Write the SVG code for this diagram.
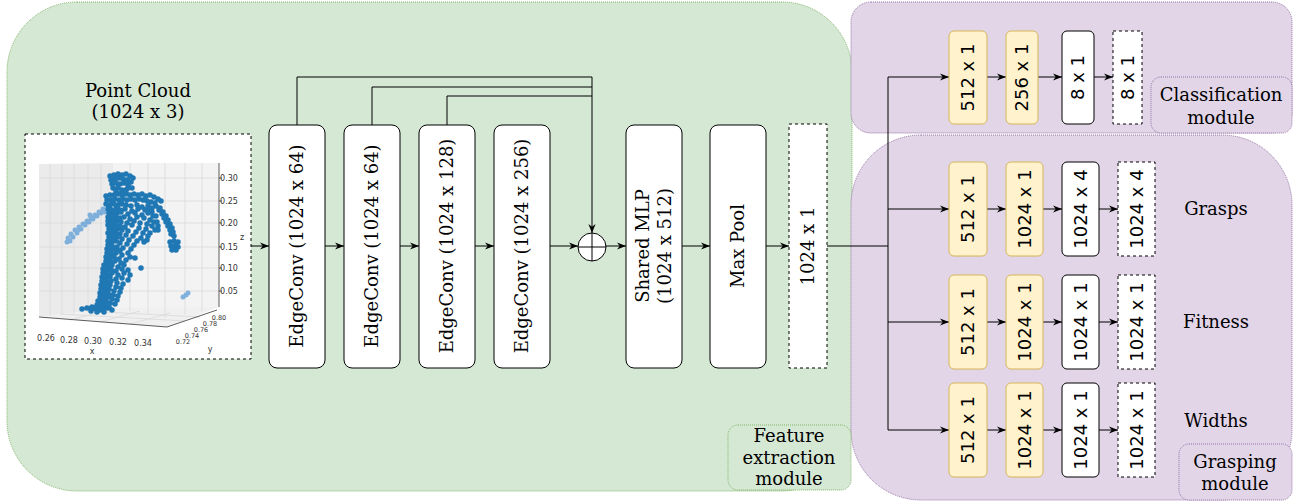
<svg xmlns="http://www.w3.org/2000/svg" width="1303" height="502" viewBox="0 0 1303 502">
<defs>
<style>
.g{fill:#d5e8d4;stroke:#82b366;stroke-dasharray:1 1}
.p{fill:#e1d5e7;stroke:#9673a6;stroke-dasharray:1 1}
.w{fill:#fff;stroke:#000;stroke-width:1}
.y{fill:#fff2cc;stroke:#d6b656;stroke-width:1}
.d{fill:#fff;stroke:#000;stroke-width:1;stroke-dasharray:3 3}
.sf{font-family:"DejaVu Serif","Liberation Serif",serif;font-size:18px;fill:#000;text-anchor:middle}
.ss{font-family:"DejaVu Sans","Liberation Sans",sans-serif;font-size:18px;fill:#000;text-anchor:middle}
.tk{font-family:"DejaVu Sans","Liberation Sans",sans-serif;font-size:8px;fill:#333;text-anchor:middle}
.tky{font-family:"DejaVu Sans","Liberation Sans",sans-serif;font-size:6.5px;fill:#333;text-anchor:middle}
.c{fill:none;stroke:#000;stroke-width:1}
.ca{fill:none;stroke:#000;stroke-width:1;marker-end:url(#ah)}
.gr{stroke:#d9d9d9;stroke-width:0.8;fill:none}
</style>
<marker id="ah" viewBox="0 0 10 10" refX="10" refY="5" markerWidth="9" markerHeight="9" markerUnits="userSpaceOnUse" orient="auto">
<path d="M0,1 L10,5 L0,9 L3,5 Z" fill="#000"/>
</marker>
</defs>

<g id="feature-module">
<rect class="g" x="7" y="2" width="845" height="489" rx="70"/>
</g>
<g id="classification-module">
<rect class="p" x="851" y="2" width="441" height="131" rx="20"/>
</g>
<g id="grasping-module">
<rect class="p" x="851" y="135" width="441" height="365" rx="70"/>
</g>

<g id="point-cloud">
<text class="sf" x="138" y="97">Point Cloud</text>
<text class="sf" x="138" y="118">(1024 x 3)</text>
<rect class="d" x="25" y="134" width="226" height="225"/>
<polygon points="39,164 113,163 113,308 39,317" fill="#ebebeb"/>
<polygon points="113,163 219,163 219,307 167,320 113,308" fill="#f3f3f3"/>
<polygon points="39,317 113,308 219,307 167,327" fill="#f0f0f0"/>
<path class="gr" d="M50,164V316 M62,164V315 M74,164V314 M88,164V312 M101,164V310 M130,163V311 M148,163V314 M165,163V318 M185,163V315 M202,163V311 M39,178H219 M39,201H219 M39,223H219 M39,247H219 M39,268H219 M39,291H219 M60,314L185,321 M85,311L200,317 M70,320L112,309 M100,322L140,311 M130,324L170,313"/>
<path d="M39,317L167,327L217,310 M219,163V307" stroke="#333" stroke-width="0.8" fill="none"/>
<path d="M219,178h3 M219,201h3 M219,223h3 M219,247h3 M219,268h3 M219,291h3" stroke="#333" stroke-width="0.8"/>
<path fill="none" stroke="#5b9bd5" stroke-width="5" stroke-linecap="round" opacity="0.75" d="M103 209h0 M99 212h0 M95 215h0 M91 218h0 M87 221h0 M83 224h0 M79 227h0 M75 230h0 M71 234h0 M68 238h0 M67 242h0 M101 213h0 M97 216h0 M93 219h0 M89 222h0 M85 225h0 M81 229h0 M77 233h0 M73 237h0 M70 241h0 M105 212h0 M90 215h0 M78 230h0 M183 297h0 M186 295h0 M188 293h0"/>
<path fill="none" stroke="#1f77b4" stroke-width="5.5" stroke-linecap="round" d="M110 176h0 M114 175h0 M118 174h0 M122 175h0 M126 174h0 M130 176h0 M133 178h0 M111 180h0 M115 179h0 M119 178h0 M123 179h0 M127 180h0 M131 182h0 M112 184h0 M116 183h0 M120 184h0 M124 183h0 M128 185h0 M113 188h0 M118 188h0 M122 190h0 M127 189h0 M132 188h0 M116 192h0 M121 193h0 M126 193h0
M106 196h0 M110 195h0 M114 195h0 M118 194h0 M122 195h0 M126 194h0 M130 195h0 M134 194h0 M138 195h0 M142 194h0 M146 196h0 M150 195h0 M154 197h0 M158 199h0 M161 201h0 M107 200h0 M111 200h0 M115 199h0 M119 200h0 M123 199h0 M127 200h0 M131 199h0 M135 200h0 M139 199h0 M143 200h0 M147 201h0 M151 202h0 M155 203h0 M106 204h0 M110 205h0 M114 204h0 M118 205h0 M122 204h0 M126 205h0 M131 206h0 M137 205h0 M142 207h0 M148 206h0 M152 208h0
M108 209h0 M112 210h0 M116 209h0 M120 210h0 M125 209h0 M132 211h0 M138 209h0 M145 210h0 M150 209h0
M109 213h0 M113 214h0 M117 213h0 M121 212h0 M128 214h0 M135 213h0 M142 215h0 M148 213h0 M153 216h0
M108 217h0 M112 218h0 M116 217h0 M120 218h0 M124 217h0 M130 219h0 M137 217h0 M144 218h0 M150 220h0
M108 221h0 M112 222h0 M116 221h0 M121 222h0 M127 223h0 M134 221h0 M140 223h0 M147 224h0 M157 222h0
M108 225h0 M112 226h0 M116 225h0 M120 226h0 M125 227h0 M132 225h0 M139 228h0 M146 229h0 M152 226h0
M109 229h0 M113 230h0 M117 229h0 M122 230h0 M128 231h0 M136 232h0 M143 233h0 M158 230h0
M108 233h0 M112 234h0 M116 233h0 M120 234h0 M126 235h0 M133 236h0 M141 238h0 M148 236h0
M109 237h0 M113 238h0 M117 237h0 M122 239h0 M129 240h0 M137 241h0
M108 241h0 M112 242h0 M116 241h0 M120 243h0 M127 244h0 M134 245h0 M144 242h0
M108 245h0 M112 246h0 M117 247h0 M123 248h0 M131 249h0
M107 249h0 M111 250h0 M115 249h0 M120 251h0 M128 253h0
M107 253h0 M111 254h0 M116 253h0 M122 255h0 M130 257h0
M106 257h0 M110 258h0 M114 257h0 M119 259h0 M126 260h0
M106 261h0 M110 262h0 M115 261h0 M121 263h0
M156 206h0 M159 210h0 M162 214h0 M164 218h0 M166 222h0 M168 226h0 M170 230h0 M171 234h0 M160 208h0 M163 212h0 M166 216h0 M168 220h0 M170 224h0 M172 228h0 M173 232h0 M174 236h0 M152 212h0 M156 216h0 M154 222h0 M158 226h0 M155 230h0
M170 242h0 M174 241h0 M178 242h0 M171 246h0 M175 246h0 M178 247h0 M172 250h0 M176 250h0
M104 265h0 M108 266h0 M112 265h0 M118 267h0 M124 265h0
M103 269h0 M107 270h0 M111 269h0 M116 271h0 M122 269h0 M128 270h0
M103 273h0 M107 274h0 M112 273h0 M118 275h0 M124 273h0 M130 275h0
M102 277h0 M106 278h0 M110 277h0 M116 279h0 M122 278h0 M128 280h0
M102 281h0 M106 282h0 M111 281h0 M117 283h0 M123 284h0
M101 285h0 M105 286h0 M110 285h0 M116 287h0 M121 288h0
M101 289h0 M105 290h0 M109 289h0 M114 291h0 M120 292h0
M100 293h0 M104 294h0 M108 293h0 M113 295h0 M118 296h0
M100 297h0 M104 298h0 M108 297h0 M112 299h0 M117 300h0
M98 301h0 M102 302h0 M106 301h0 M110 303h0 M115 304h0
M97 305h0 M101 306h0 M105 305h0 M109 307h0
M82 309h0 M87 308h0 M92 307h0 M96 309h0 M100 310h0 M104 309h0 M108 308h0 M91 311h0 M97 312h0 M104 312h0 M112 310h0
M141 268h0 M147 240h0 M150 233h0 M135 258h0"/>
<text class="tk" x="229" y="181">0.30</text>
<text class="tk" x="229" y="204">0.25</text>
<text class="tk" x="229" y="226">0.20</text>
<text class="tk" x="229" y="250">0.15</text>
<text class="tk" x="229" y="271">0.10</text>
<text class="tk" x="229" y="294">0.05</text>
<text class="tk" x="242" y="240">z</text>
<text class="tk" x="46" y="341">0.26</text>
<text class="tk" x="69" y="343">0.28</text>
<text class="tk" x="93" y="344">0.30</text>
<text class="tk" x="118" y="345">0.32</text>
<text class="tk" x="143" y="346">0.34</text>
<text class="tk" x="92" y="354">x</text>
<text class="tky" x="183" y="344">0.72</text>
<text class="tky" x="192" y="338">0.74</text>
<text class="tky" x="201" y="332">0.76</text>
<text class="tky" x="210" y="326">0.78</text>
<text class="tky" x="219" y="320">0.80</text>
<text class="tk" x="210" y="352">y</text>
</g>

<g id="connectors">
<path class="ca" d="M251,246H269"/>
<path class="ca" d="M325,246H344"/>
<path class="ca" d="M400,246H419"/>
<path class="ca" d="M475,246H494"/>
<path class="ca" d="M550,246H578"/>
<path class="ca" d="M606,246H626"/>
<path class="ca" d="M682,246H710"/>
<path class="ca" d="M766,246H789"/>
<path class="c" d="M827,246H888 M888,77V430"/>
<path class="ca" d="M297,125V77H592V233"/>
<path class="c" d="M372,125V87H592"/>
<path class="c" d="M447,125V96H592"/>
<path class="ca" d="M888,77H949"/>
<path class="ca" d="M888,209H949"/>
<path class="ca" d="M888,322H949"/>
<path class="ca" d="M888,430H949"/>
<path class="ca" d="M987,77H1006"/>
<path class="ca" d="M1038,77H1062"/>
<path class="ca" d="M1094,77H1113"/>
<path class="ca" d="M987,209H1006"/>
<path class="ca" d="M1043,209H1062"/>
<path class="ca" d="M1099,209H1118"/>
<path class="ca" d="M987,322H1006"/>
<path class="ca" d="M1043,322H1062"/>
<path class="ca" d="M1099,322H1118"/>
<path class="ca" d="M987,430H1006"/>
<path class="ca" d="M1043,430H1062"/>
<path class="ca" d="M1099,430H1118"/>
</g>

<g id="edgeconv1"><rect class="w" x="269" y="125" width="56" height="243" rx="8"/><text class="sf" transform="translate(297,246) rotate(-90)" dy="6">EdgeConv (1024 x 64)</text></g>
<g id="edgeconv2"><rect class="w" x="344" y="125" width="56" height="243" rx="8"/><text class="sf" transform="translate(372,246) rotate(-90)" dy="6">EdgeConv (1024 x 64)</text></g>
<g id="edgeconv3"><rect class="w" x="419" y="125" width="56" height="243" rx="8"/><text class="sf" transform="translate(447,246) rotate(-90)" dy="6">EdgeConv (1024 x 128)</text></g>
<g id="edgeconv4"><rect class="w" x="494" y="125" width="56" height="243" rx="8"/><text class="sf" transform="translate(522,246) rotate(-90)" dy="6">EdgeConv (1024 x 256)</text></g>
<g id="sum"><circle class="w" cx="592" cy="247" r="14"/><path class="c" d="M578,247H606 M592,233V261"/></g>
<g id="shared-mlp"><rect class="w" x="626" y="125" width="56" height="243" rx="8"/><text class="sf" transform="translate(643,246) rotate(-90)" dy="6">Shared MLP</text><text class="sf" transform="translate(665,246) rotate(-90)" dy="6">(1024 x 512)</text></g>
<g id="max-pool"><rect class="w" x="710" y="125" width="56" height="243" rx="8"/><text class="sf" transform="translate(738,246) rotate(-90)" dy="6">Max Pool</text></g>
<g id="global-feature"><rect class="d" x="789" y="124" width="38" height="244"/><text class="sf" transform="translate(808,246) rotate(-90)" dy="6">1024 x 1</text></g>

<g id="feature-label"><rect class="g" x="728" y="425" width="123" height="65" rx="10"/><text class="sf" x="789" y="442">Feature</text><text class="sf" x="789" y="464">extraction</text><text class="sf" x="789" y="485">module</text></g>

<g id="cls-512"><rect class="y" x="949" y="31" width="38" height="93" rx="5"/><text class="ss" transform="translate(968,77.5) rotate(-90)" dy="6">512 x 1</text></g>
<g id="cls-256"><rect class="y" x="1006" y="31" width="32" height="93" rx="5"/><text class="ss" transform="translate(1022,77.5) rotate(-90)" dy="6">256 x 1</text></g>
<g id="cls-8"><rect class="w" x="1062" y="31" width="32" height="93" rx="5"/><text class="ss" transform="translate(1078,77.5) rotate(-90)" dy="6">8 x 1</text></g>
<g id="cls-out"><rect class="d" x="1113" y="31" width="29" height="93"/><text class="ss" transform="translate(1127.5,77.5) rotate(-90)" dy="6">8 x 1</text></g>
<g id="cls-label"><rect class="p" x="1151" y="77" width="141" height="56" rx="10"/><text class="sf" x="1221" y="101">Classification</text><text class="sf" x="1221" y="124">module</text></g>

<g id="gr-512"><rect class="y" x="949" y="162" width="38" height="94" rx="5"/><text class="ss" transform="translate(968,209) rotate(-90)" dy="6">512 x 1</text></g>
<g id="gr-1024a"><rect class="y" x="1006" y="162" width="37" height="94" rx="5"/><text class="ss" transform="translate(1024.5,209) rotate(-90)" dy="6">1024 x 1</text></g>
<g id="gr-1024b"><rect class="w" x="1062" y="162" width="37" height="94" rx="5"/><text class="ss" transform="translate(1080.5,209) rotate(-90)" dy="6">1024 x 4</text></g>
<g id="gr-out"><rect class="d" x="1118" y="162" width="37" height="94"/><text class="ss" transform="translate(1136.5,209) rotate(-90)" dy="6">1024 x 4</text></g>
<g id="grasps-label"><text class="sf" x="1216" y="215">Grasps</text></g>

<g id="fit-512"><rect class="y" x="949" y="275" width="38" height="94" rx="5"/><text class="ss" transform="translate(968,322) rotate(-90)" dy="6">512 x 1</text></g>
<g id="fit-1024a"><rect class="y" x="1006" y="275" width="37" height="94" rx="5"/><text class="ss" transform="translate(1024.5,322) rotate(-90)" dy="6">1024 x 1</text></g>
<g id="fit-1024b"><rect class="w" x="1062" y="275" width="37" height="94" rx="5"/><text class="ss" transform="translate(1080.5,322) rotate(-90)" dy="6">1024 x 1</text></g>
<g id="fit-out"><rect class="d" x="1118" y="275" width="37" height="94"/><text class="ss" transform="translate(1136.5,322) rotate(-90)" dy="6">1024 x 1</text></g>
<g id="fitness-label"><text class="sf" x="1216" y="328">Fitness</text></g>

<g id="wid-512"><rect class="y" x="949" y="383" width="38" height="94" rx="5"/><text class="ss" transform="translate(968,430) rotate(-90)" dy="6">512 x 1</text></g>
<g id="wid-1024a"><rect class="y" x="1006" y="383" width="37" height="94" rx="5"/><text class="ss" transform="translate(1024.5,430) rotate(-90)" dy="6">1024 x 1</text></g>
<g id="wid-1024b"><rect class="w" x="1062" y="383" width="37" height="94" rx="5"/><text class="ss" transform="translate(1080.5,430) rotate(-90)" dy="6">1024 x 1</text></g>
<g id="wid-out"><rect class="d" x="1118" y="383" width="37" height="94"/><text class="ss" transform="translate(1136.5,430) rotate(-90)" dy="6">1024 x 1</text></g>
<g id="widths-label"><text class="sf" x="1216" y="427">Widths</text></g>

<g id="grasping-label"><rect class="p" x="1179" y="444" width="113" height="56" rx="10"/><text class="sf" x="1235" y="468">Grasping</text><text class="sf" x="1235" y="490">module</text></g>
</svg>
